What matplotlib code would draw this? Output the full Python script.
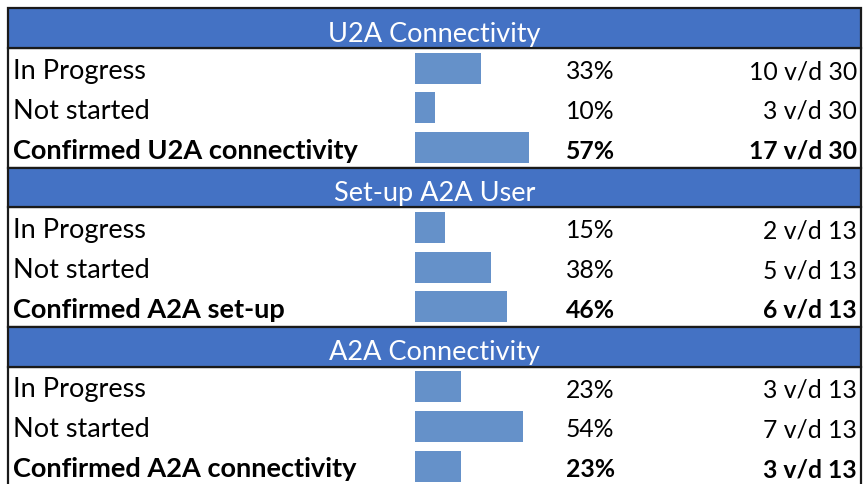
import matplotlib.pyplot as plt
from matplotlib.patches import Rectangle

# section titles and row data
sections = ["U2A Connectivity", "Set-up A2A User", "A2A Connectivity"]
labels = [
    ["In Progress", "Not started", "Confirmed U2A connectivity"],
    ["In Progress", "Not started", "Confirmed A2A set-up"],
    ["In Progress", "Not started", "Confirmed A2A connectivity"],
]
pcts = [[33, 10, 57], [15, 38, 46], [23, 54, 23]]
counts = [[10, 3, 17], [2, 5, 6], [3, 7, 3]]
totals = [30, 13, 13]

header_col = "#4472C4"
bar_col = "#6591C9"
font = ["Lato", "DejaVu Sans"]

fig = plt.figure(figsize=(8.64, 4.84), dpi=100)
ax = fig.add_axes([0, 0, 1, 1])
ax.set_xlim(0, 864)
ax.set_ylim(484, 0)
ax.axis("off")

x0, x1 = 8, 861
top = 8.3
h = 39.8
fs_txt = 19.5   # labels / titles
fs_num = 17.8   # numbers

for s, title in enumerate(sections):
    y = top + s * 4 * h
    # header band
    ax.add_patch(Rectangle((x0, y), x1 - x0, h, facecolor=header_col,
                           edgecolor="#1a1a1a", lw=1.6, zorder=2))
    ax.text((x0 + x1) / 2, y + 33.5, title, color="white", ha="center",
            va="baseline", fontsize=fs_txt, family=font, zorder=3)
    # white body with border
    ax.add_patch(Rectangle((x0, y + h), x1 - x0, 3 * h, facecolor="white",
                           edgecolor="#1a1a1a", lw=1.6, zorder=1))
    ys = [y + h * (i + 1.5) for i in range(3)]
    ax.barh(ys, [p * 2.0 for p in pcts[s]], left=415, height=31,
            color=bar_col, zorder=2)
    for i in range(3):
        w = "bold" if i == 2 else "normal"
        base = y + h * (i + 1) + 31
        ax.text(13, base, labels[s][i], ha="left", va="baseline",
                fontsize=fs_txt, family=font, weight=w, color="black", zorder=3)
        ax.text(566, base, f"{pcts[s][i]}%", ha="left", va="baseline",
                fontsize=fs_num, family=font, weight=w, color="black", zorder=3)
        ax.text(857, base, f"{counts[s][i]} v/d {totals[s]}", ha="right",
                va="baseline", fontsize=fs_num, family=font, weight=w,
                color="black", zorder=3)

fig.savefig("out.png", dpi=100, facecolor="white")
